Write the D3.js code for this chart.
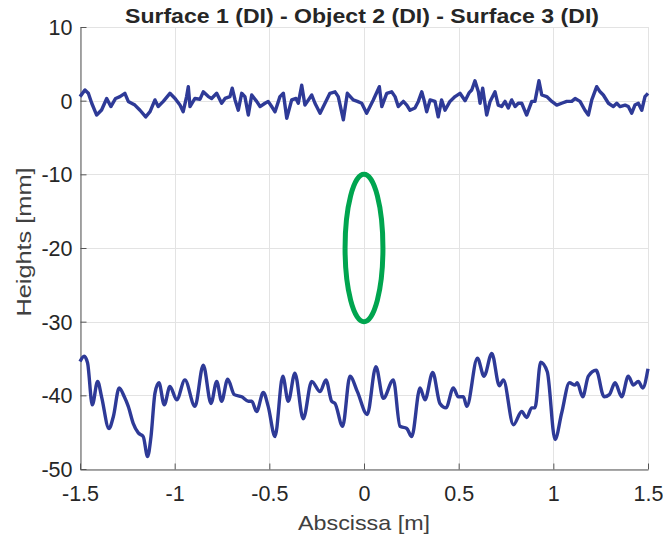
<!DOCTYPE html>
<html>
<head>
<meta charset="utf-8">
<script src="https://cdn.jsdelivr.net/npm/d3@7"></script>
<style>
html,body{margin:0;padding:0;background:#fff;}
svg{display:block;font-family:"Liberation Sans",Arial,Helvetica,sans-serif;}
</style>
</head>
<body>
<svg id="chart" width="663" height="544"></svg>
<script>
// ---- data ----
const titleText = "Surface 1 (DI) - Object 2 (DI) - Surface 3 (DI)";
const xLabelText = "Abscissa [m]";
const yLabelText = "Heights [mm]";
const xTicks = [-1.5, -1, -0.5, 0, 0.5, 1, 1.5];
const yTicks = [10, 0, -10, -20, -30, -40, -50];
const xDomain = [-1.5, 1.5];
const yDomain = [-50, 10];

// Surface 1 (top)
const surface1X = [-1.500,-1.474,-1.456,-1.438,-1.412,-1.386,-1.359,-1.337,-1.312,-1.289,-1.263,-1.245,-1.210,-1.183,-1.153,-1.130,-1.104,-1.087,-1.060,-1.025,-0.998,-0.972,-0.955,-0.937,-0.928,-0.919,-0.893,-0.866,-0.849,-0.822,-0.805,-0.778,-0.752,-0.734,-0.708,-0.696,-0.681,-0.664,-0.646,-0.629,-0.611,-0.593,-0.567,-0.549,-0.523,-0.506,-0.485,-0.470,-0.444,-0.426,-0.408,-0.382,-0.359,-0.347,-0.329,-0.312,-0.276,-0.259,-0.232,-0.206,-0.180,-0.153,-0.136,-0.109,-0.088,-0.057,-0.035,-0.012,0.014,0.049,0.081,0.094,0.120,0.146,0.164,0.181,0.208,0.226,0.243,0.269,0.287,0.305,0.317,0.331,0.349,0.375,0.392,0.410,0.428,0.454,0.481,0.507,0.534,0.556,0.569,0.586,0.604,0.613,0.627,0.648,0.666,0.692,0.709,0.727,0.745,0.762,0.780,0.798,0.815,0.833,0.859,0.886,0.903,0.924,0.939,0.965,0.992,1.018,1.044,1.071,1.097,1.115,1.141,1.167,1.185,1.203,1.229,1.247,1.264,1.291,1.317,1.335,1.352,1.379,1.396,1.414,1.431,1.449,1.467,1.484,1.500];
const surface1Y = [0.55,1.45,1.0,-0.35,-1.95,-1.26,0.3,-0.8,0.3,0.55,1.0,-0.1,-0.6,-1.3,-2.2,-1.5,0.1,-0.8,-0.1,1.0,0.3,-0.6,-1.5,0.55,1.9,-0.8,0.3,0.2,1.2,0.55,0.3,1.0,-0.35,0.3,0.55,1.7,0.1,-1.3,1.0,0.55,-1.95,0.77,-0.1,-0.8,-0.35,-0.1,-0.9,-1.5,0.55,1.0,-2.4,0.1,0.3,-0.35,2.1,-0.6,0.77,-0.35,-1.7,-0.35,1.0,1.2,0.55,-2.6,1.0,0.1,-0.1,-0.35,-1.7,0.1,1.9,-0.8,1.0,1.2,0.55,-0.8,-0.1,-0.6,-1.3,-1.0,-0.1,1.2,0.1,-1.5,0.1,-0.1,-2.2,0.1,-1.3,-0.1,0.55,1.0,0.0,1.1,1.45,2.7,1.2,-0.35,1.7,-1.95,-0.1,1.2,-0.6,-0.8,-0.1,-1.0,0.1,-0.8,-0.35,-0.35,-1.95,-0.1,-0.1,2.7,0.77,0.55,-0.1,-0.6,-0.35,-0.1,-0.1,0.3,-0.1,-1.3,-1.95,0.1,1.9,1.2,0.77,-0.35,-0.8,-0.35,-0.8,-0.6,-0.8,-1.7,-0.6,-0.35,-1.3,0.55,1.0];

// Surface 3 (bottom)
const surface3X = [-1.500,-1.478,-1.460,-1.435,-1.407,-1.386,-1.347,-1.324,-1.293,-1.266,-1.245,-1.219,-1.192,-1.166,-1.143,-1.125,-1.104,-1.083,-1.055,-1.025,-0.989,-0.946,-0.893,-0.849,-0.808,-0.778,-0.752,-0.720,-0.685,-0.646,-0.611,-0.593,-0.567,-0.532,-0.506,-0.470,-0.429,-0.400,-0.365,-0.321,-0.276,-0.232,-0.201,-0.171,-0.153,-0.113,-0.074,-0.035,0.017,0.063,0.102,0.155,0.190,0.226,0.252,0.296,0.322,0.363,0.401,0.433,0.472,0.498,0.525,0.543,0.599,0.634,0.675,0.715,0.736,0.789,0.833,0.859,0.886,0.903,0.933,0.968,1.009,1.044,1.085,1.115,1.126,1.155,1.185,1.226,1.268,1.296,1.326,1.361,1.396,1.423,1.449,1.472,1.500];
const surface3Y = [-35.4,-34.7,-35.6,-41.3,-38.1,-40.2,-44.5,-42.9,-39.0,-40.2,-41.5,-43.8,-45.1,-45.6,-48.3,-45.6,-39.7,-38.3,-41.3,-38.8,-40.6,-37.9,-41.5,-35.9,-41.1,-38.1,-40.8,-37.8,-39.9,-40.2,-40.8,-40.8,-42.2,-39.6,-41.5,-45.6,-37.4,-40.8,-37.0,-43.2,-38.1,-39.5,-37.9,-40.8,-41.1,-44.2,-37.4,-39.5,-42.6,-36.1,-40.4,-37.9,-44.2,-44.5,-45.6,-39.0,-40.6,-36.9,-41.1,-41.7,-39.0,-40.2,-40.2,-41.5,-34.95,-37.4,-34.3,-38.7,-37.9,-44.0,-42.2,-43.0,-41.7,-41.7,-35.5,-36.8,-46.0,-42.4,-38.3,-38.6,-38.3,-40.2,-37.4,-36.6,-40.2,-39.9,-38.3,-40.2,-37.4,-38.6,-38.1,-39.0,-36.4];

// Object 2 (ellipse): centre and semi-axes in data units
const objectCenter = [0, -20];
const objectRadii = [0.1, 10];

// ---- layout ----
const margin = {left: 80, right: 15, top: 27, bottom: 75};
const W = 663, H = 544;
const svg = d3.select("#chart");
const x = d3.scaleLinear().domain(xDomain).range([margin.left, W - margin.right]);
const y = d3.scaleLinear().domain(yDomain).range([H - margin.bottom, margin.top]);

const textColor = "#262626";
const gridColor = "#e3e3e3";
const axisColor = "#555";

// grid
svg.append("g").selectAll("line").data(xTicks).join("line")
  .attr("x1", d => Math.round(x(d)) + 0.5).attr("x2", d => Math.round(x(d)) + 0.5)
  .attr("y1", y(yDomain[0])).attr("y2", y(yDomain[1]))
  .attr("stroke", gridColor).attr("stroke-width", 1);
svg.append("g").selectAll("line").data(yTicks).join("line")
  .attr("y1", d => Math.round(y(d)) + 0.5).attr("y2", d => Math.round(y(d)) + 0.5)
  .attr("x1", x(xDomain[0])).attr("x2", x(xDomain[1]))
  .attr("stroke", gridColor).attr("stroke-width", 1);

// axes
const xAxis = d3.axisBottom(x).tickValues(xTicks).tickSizeInner(-6).tickSizeOuter(0)
  .tickFormat(d => String(d));
const yAxis = d3.axisLeft(y).tickValues(yTicks).tickSizeInner(-6).tickSizeOuter(0)
  .tickFormat(d => String(d));

const gx = svg.append("g").attr("transform", `translate(0,${Math.round(y(yDomain[0])) + 0.5})`).call(xAxis);
const gy = svg.append("g").attr("transform", `translate(${Math.round(x(xDomain[0])) + 0.5},0)`).call(yAxis);
[gx, gy].forEach(g => {
  g.select(".domain").attr("stroke", axisColor).attr("stroke-width", 1);
  g.selectAll(".tick line").attr("stroke", axisColor);
  g.selectAll(".tick text").attr("fill", textColor)
    .style("font-family", '"Liberation Sans", Arial, sans-serif').style("font-size", "21.5px");
});
gx.selectAll(".tick text").attr("y", 16).attr("dy", "0.71em");
gy.selectAll(".tick text").attr("x", -8).attr("dy", "0.35em");

// lines
svg.append("path")
  .datum(d3.zip(surface1X, surface1Y))
  .attr("d", d3.line().x(d => x(d[0])).y(d => y(d[1])).curve(d3.curveLinear))
  .attr("fill", "none").attr("stroke", "#2e3a97").attr("stroke-width", 3.4)
  .attr("stroke-linejoin", "round");
svg.append("path")
  .datum(d3.zip(surface3X, surface3Y))
  .attr("d", d3.line().x(d => x(d[0])).y(d => y(d[1])).curve(d3.curveMonotoneX))
  .attr("fill", "none").attr("stroke", "#2e3a97").attr("stroke-width", 3.4)
  .attr("stroke-linejoin", "round");

// ellipse
svg.append("ellipse")
  .attr("cx", x(objectCenter[0])).attr("cy", y(objectCenter[1]))
  .attr("rx", x(objectCenter[0] + objectRadii[0]) - x(objectCenter[0]))
  .attr("ry", y(objectCenter[1] - objectRadii[1]) - y(objectCenter[1]))
  .attr("fill", "none").attr("stroke", "#00a54f").attr("stroke-width", 5);

// title & labels
svg.append("text").attr("x", 362).attr("y", 23)
  .attr("text-anchor", "middle").attr("fill", textColor)
  .attr("textLength", 474).attr("lengthAdjust", "spacingAndGlyphs")
  .style("font-size", "21px").style("font-weight", "bold").text(titleText);
svg.append("text").attr("x", 364).attr("y", 530)
  .attr("text-anchor", "middle").attr("fill", "#404040")
  .attr("textLength", 132).attr("lengthAdjust", "spacingAndGlyphs")
  .style("font-size", "21px").text(xLabelText);
svg.append("text").attr("transform", `translate(31,242) rotate(-90)`)
  .attr("text-anchor", "middle").attr("fill", "#404040")
  .attr("textLength", 149).attr("lengthAdjust", "spacingAndGlyphs")
  .style("font-size", "21px").text(yLabelText);
</script>
</body>
</html>
